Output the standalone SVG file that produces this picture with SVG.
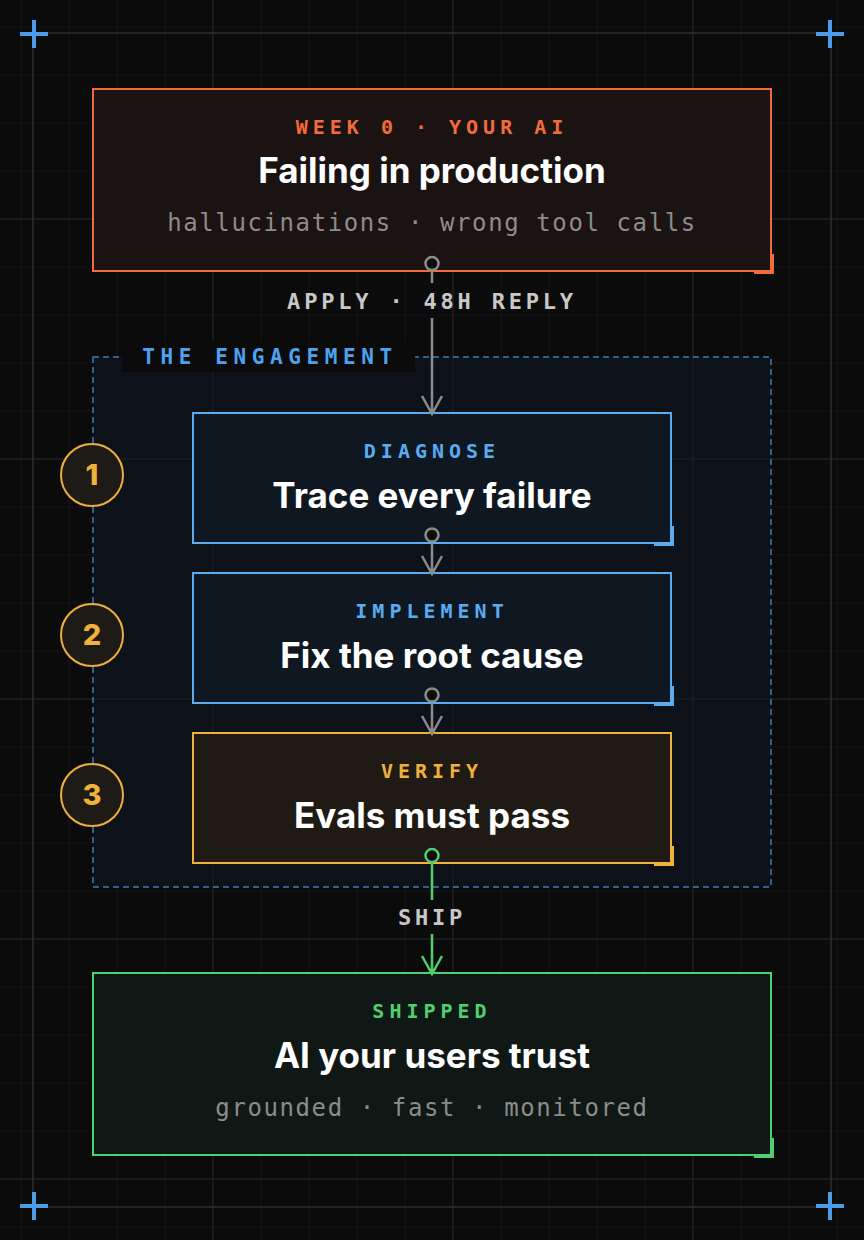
<svg xmlns="http://www.w3.org/2000/svg" width="864" height="1240" viewBox="0 0 864 1240">
<style>
.minor{stroke:#151517;stroke-width:1.2}
.major{stroke:#222225;stroke-width:1.4}
.frame{stroke:#2b2b30;stroke-width:1.6;fill:none}
.cross{stroke:#4a9ee8;stroke-width:4}
.tag{font-family:"DejaVu Sans Mono","Liberation Mono",monospace;font-weight:700;font-size:20px;letter-spacing:5px;text-anchor:middle}
.title{font-family:Inter,"Noto Sans",sans-serif;font-weight:700;font-size:35px;fill:#ffffff;text-anchor:middle}
.sub{font-family:"DejaVu Sans Mono","Liberation Mono",monospace;font-size:24px;letter-spacing:1.6px;fill:#8c8c8c;text-anchor:middle}
.clabel{font-family:"DejaVu Sans Mono","Liberation Mono",monospace;font-weight:700;font-size:22px;letter-spacing:3.8px;fill:#c8c8c8;text-anchor:middle}
.num{font-family:Inter,"Noto Sans",sans-serif;font-weight:800;font-size:29px;fill:#f0b03c;text-anchor:middle}
.ncirc{fill:#1e1b16;stroke:#f0b03c;stroke-width:2}
.gline{stroke:#8c8c8c;stroke-width:2.5;fill:none}
.grn{stroke:#4fcf70;stroke-width:2.5;fill:none}
.dot{fill:#0c0c0d;stroke-width:2.5}
</style>
<rect width="864" height="1240" fill="#0b0b0c"/>
<g id="grid">
<path class="minor" d="M21 0V1240M69 0V1240M117 0V1240M165 0V1240M261 0V1240M309 0V1240M357 0V1240M405 0V1240M501 0V1240M549 0V1240M597 0V1240M645 0V1240M741 0V1240M789 0V1240M837 0V1240"/>
<path class="minor" d="M0 27H864M0 75H864M0 123H864M0 171H864M0 267H864M0 315H864M0 363H864M0 411H864M0 507H864M0 555H864M0 603H864M0 651H864M0 747H864M0 795H864M0 843H864M0 891H864M0 987H864M0 1035H864M0 1083H864M0 1131H864M0 1227H864"/>
<path class="major" d="M213 0V1240M453 0V1240M693 0V1240M0 219H864M0 459H864M0 699H864M0 939H864M0 1179H864"/>
<rect class="frame" x="33" y="33" width="798" height="1174"/>
<path class="cross" d="M20 34H48M34 20V48M816 34H844M830 20V48M20 1206H48M34 1192V1220M816 1206H844M830 1192V1220"/>
</g>
<g id="engagement">
<rect x="93" y="357" width="678" height="530" fill="#101a28" fill-opacity="0.45" stroke="#3b7cc0" stroke-width="1.5" stroke-dasharray="6 4"/>
<rect x="122" y="341" width="293" height="31" fill="#0b0b0c"/>
<text class="tag" x="270" y="364" style="font-size:21px;letter-spacing:5.6px" fill="#4da3f0">THE ENGAGEMENT</text>
</g>
<g id="node-week0">
<rect x="93" y="89" width="678" height="182" fill="#1b1312" stroke="#f26b3a" stroke-width="2"/>
<path d="M754 272H772V254" fill="none" stroke="#f26b3a" stroke-width="4"/>
<text class="tag" x="432" y="134" fill="#f26b3a">WEEK 0 · YOUR AI</text>
<text class="title" x="432" y="183">Failing in production</text>
<text class="sub" x="432" y="231">hallucinations · wrong tool calls</text>
</g>
<g id="node-diagnose">
<rect x="193" y="413" width="478" height="130" fill="#0f1721" stroke="#5aacf2" stroke-width="2"/>
<path d="M654 544H672V526" fill="none" stroke="#5aacf2" stroke-width="4"/>
<text class="tag" x="432" y="458" fill="#5aacf2">DIAGNOSE</text>
<text class="title" x="432" y="508">Trace every failure</text>
</g>
<g id="node-implement">
<rect x="193" y="573" width="478" height="130" fill="#0f1721" stroke="#5aacf2" stroke-width="2"/>
<path d="M654 704H672V686" fill="none" stroke="#5aacf2" stroke-width="4"/>
<text class="tag" x="432" y="618" fill="#5aacf2">IMPLEMENT</text>
<text class="title" x="432" y="668">Fix the root cause</text>
</g>
<g id="node-verify">
<rect x="193" y="733" width="478" height="130" fill="#1f1a13" stroke="#f0b03c" stroke-width="2"/>
<path d="M654 864H672V846" fill="none" stroke="#f0b03c" stroke-width="4"/>
<text class="tag" x="432" y="778" fill="#f0b03c">VERIFY</text>
<text class="title" x="432" y="828">Evals must pass</text>
</g>
<g id="node-shipped">
<rect x="93" y="973" width="678" height="182" fill="#0f1814" stroke="#4fcf70" stroke-width="2"/>
<path d="M754 1156H772V1138" fill="none" stroke="#4fcf70" stroke-width="4"/>
<text class="tag" x="432" y="1018" fill="#4fcf70">SHIPPED</text>
<text class="title" x="432" y="1068">AI your users trust</text>
<text class="sub" x="432" y="1116">grounded · fast · monitored</text>
</g>
<g id="step-1"><circle class="ncirc" cx="92" cy="475" r="31"/><text class="num" x="92" y="485">1</text></g>
<g id="step-2"><circle class="ncirc" cx="92" cy="635" r="31"/><text class="num" x="92" y="645">2</text></g>
<g id="step-3"><circle class="ncirc" cx="92" cy="795" r="31"/><text class="num" x="92" y="805">3</text></g>
<g id="connectors">
<path class="gline" d="M432 270V283M432 318V413"/>
<path class="gline" d="M422 396L432 414L442 396"/>
<circle class="dot" cx="432" cy="263.5" r="6.5" stroke="#8c8c8c"/>
<text class="clabel" x="432" y="309">APPLY · 48H REPLY</text>
<path class="gline" d="M432 542V573M422 556L432 574L442 556"/>
<circle class="dot" cx="432" cy="535" r="6.5" stroke="#8c8c8c"/>
<path class="gline" d="M432 702V733M422 716L432 734L442 716"/>
<circle class="dot" cx="432" cy="695" r="6.5" stroke="#8c8c8c"/>
<path class="grn" d="M432 862V900M432 934V973M422 956L432 974L442 956"/>
<circle class="dot" cx="432" cy="855.5" r="6.5" stroke="#4fcf70"/>
<text class="clabel" x="432" y="925">SHIP</text>
</g>
</svg>
